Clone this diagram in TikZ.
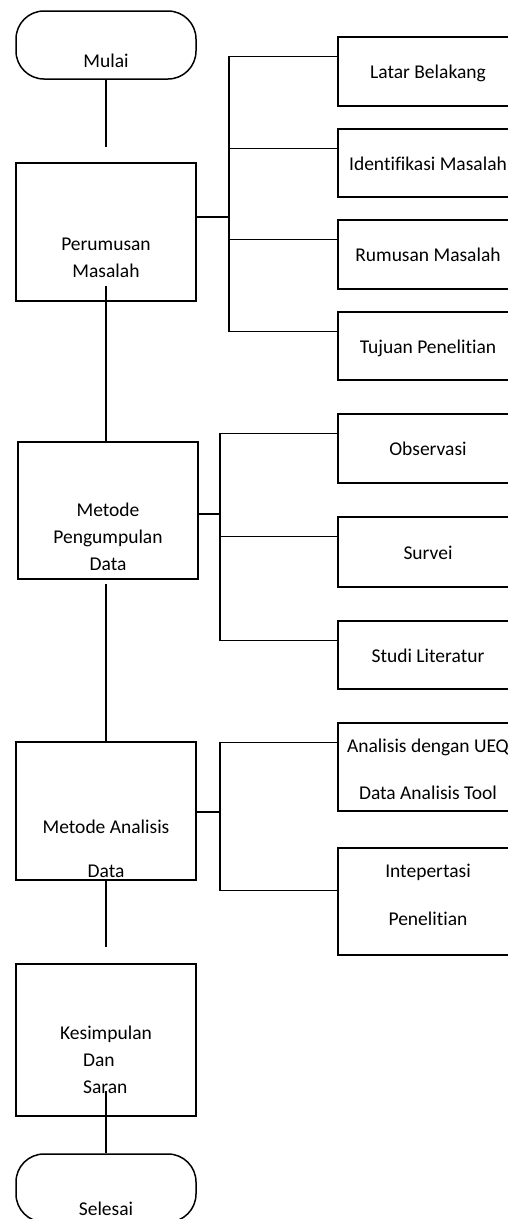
\documentclass[tikz,border=0pt]{standalone}
\usepackage{fontspec}
\setmainfont{Carlito}[Ligatures=NoCommon]
\usetikzlibrary{positioning}

\begin{document}
\begin{tikzpicture}[
    x=1pt, y=-1pt,
    line width=1.5pt,
    font=\fontsize{19.5}{27}\selectfont,
    flowterm/.style={draw, rectangle, rounded corners=28pt, minimum width=180pt, minimum height=68pt, inner sep=0pt, align=center, text depth=0pt},
    flowmain/.style={draw, rectangle, minimum width=180pt, inner sep=0pt, align=center, text depth=0pt},
    flowsub/.style={draw, rectangle, minimum width=180pt, inner sep=0pt, align=center, text height=14pt, text depth=0pt},
    flowline/.style={line width=1.5pt}
]
  \useasboundingbox (0,0) rectangle (508,1219);

  % Nodes
  \node (mulai) [flowterm, text height=44pt] at (106,45) {Mulai};
  \node (perumusan) [flowmain, minimum height=138pt, text height=90pt] at (106,232) {Perumusan\\Masalah};
  \node (pengumpulan) [flowmain, minimum height=137pt, text height=119pt] at (108,510.5) {Metode\\Pengumpulan\\Data};
  \node (analisis) [flowmain, minimum height=138pt, text height=132pt] at (106,811) {Metode Analisis\\[17pt]Data};
  \node (kesimpulan) [flowmain, minimum height=152pt, text height=106pt, align=left] at (106,1040) {Kesimpulan\\\hspace*{23pt}Dan\\\hspace*{23pt}Saran};
  \node (selesai) [flowterm, text height=54pt] at (106,1188) {Selesai};

  \node (latar) [flowsub, minimum height=69pt] at (428,71.5) {Latar Belakang};
  \node (identifikasi) [flowsub, minimum height=68pt] at (428,163) {Identifikasi Masalah};
  \node (rumusan) [flowsub, minimum height=69pt] at (428,254.5) {Rumusan Masalah};
  \node (tujuan) [flowsub, minimum height=68pt] at (428,346) {Tujuan Penelitian};

  \node (observasi) [flowsub, minimum height=69pt] at (428,448.5) {Observasi};
  \node (survei) [flowsub, minimum height=70pt] at (428,552) {Survei};
  \node (studi) [flowsub, minimum height=68pt] at (428,655) {Studi Literatur};

  \node (ueq) [flowsub, minimum height=88pt, text height=64pt] at (428,767) {Analisis dengan UEQ\\[20pt]Data Analisis Tool};
  \node (intepertasi) [flowsub, minimum height=107pt, text height=47pt] at (428,901.5) {Intepertasi\\[21pt]Penelitian};

  % Main flow
  \draw [flowline, shorten >=15pt] (mulai) -- (perumusan);
  \draw [flowline, shorten <=-16pt] (perumusan.south) -- (perumusan.south |- pengumpulan.north);
  \draw [flowline, shorten <=4pt] (analisis.north |- pengumpulan.south) -- (analisis.north);
  \draw [flowline, shorten >=16pt] (analisis) -- (kesimpulan);
  \draw [flowline, shorten <=-26pt] (kesimpulan.south) -- (selesai.north);

  % Branches
  \coordinate (busA) at (229,217);
  \coordinate (busB) at (220,514);
  \coordinate (busC) at (220,812);

  \draw [flowline] (perumusan.east |- busA) -- (busA);
  \foreach \n in {latar, identifikasi, rumusan, tujuan}
    \draw [flowline] ([yshift=-20pt]\n.north west) -| (busA);

  \draw [flowline] (pengumpulan.east |- busB) -- (busB);
  \foreach \n in {observasi, survei, studi}
    \draw [flowline] ([yshift=-20pt]\n.north west) -| (busB);

  \draw [flowline] (analisis.east |- busC) -- (busC);
  \foreach \n/\d in {ueq/20, intepertasi/43}
    \draw [flowline] ([yshift=-\d pt]\n.north west) -| (busC);
\end{tikzpicture}
\end{document}
